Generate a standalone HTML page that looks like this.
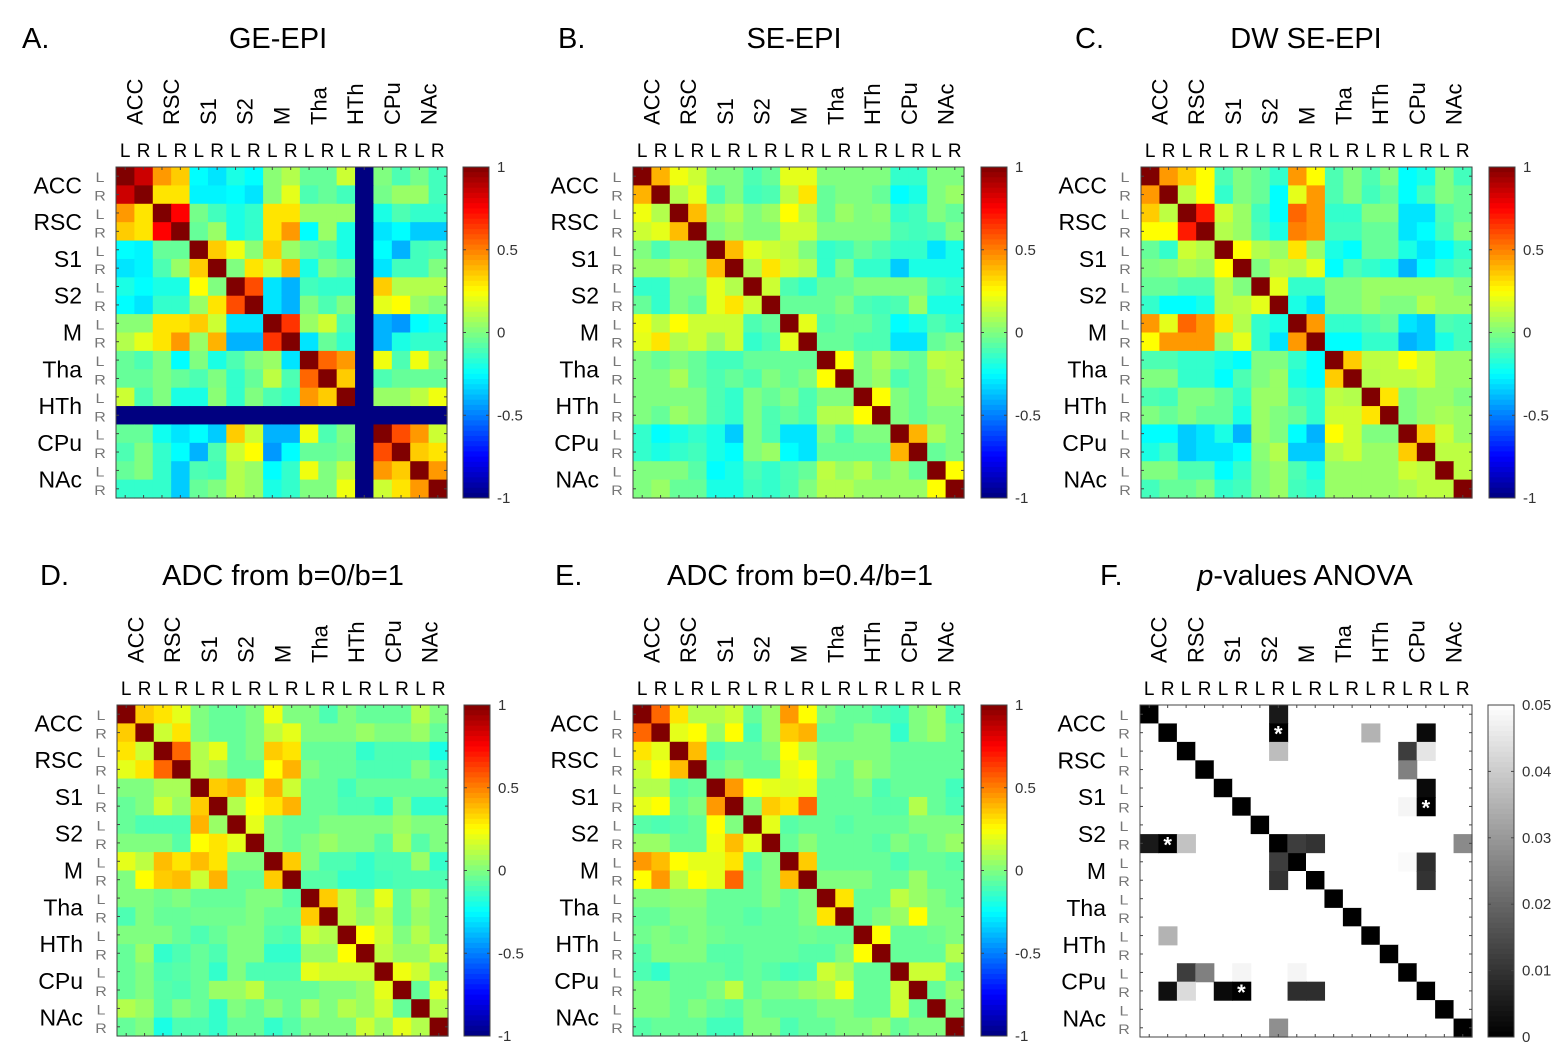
<!DOCTYPE html>
<html><head><meta charset="utf-8"><style>
html,body{margin:0;padding:0;background:#fff;}
svg{display:block;font-family:"Liberation Sans",sans-serif;}
</style></head><body>
<svg id="fig" width="1566" height="1062" viewBox="0 0 1566 1062" xmlns="http://www.w3.org/2000/svg"></svg>
<script>
const regions = ["ACC","RSC","S1","S2","M","Tha","HTh","CPu","NAc"];
const sides = ["L","R"];
const jetTicks = ["1","0.5","0","-0.5","-1"];
const pTicks = ["0.05","0.04","0.03","0.02","0.01","0"];
const matA = [
[1,.85,.45,.35,-.25,-.3,-.2,-.25,.02,.1,-.05,-.05,.15,-1,0,-.1,-.02,-.12],
[.85,1,.3,.3,-.27,-.27,-.25,-.3,.02,.2,-.1,-.05,-.12,-1,-.02,.05,.05,-.12],
[.45,.3,1,.75,-.02,-.12,-.2,-.15,.3,.3,.05,.05,.05,-1,-.2,-.1,-.15,-.15],
[.35,.3,.75,1,-.05,.05,-.2,-.15,.3,.45,-.25,.05,-.2,-1,-.3,-.25,-.35,-.35],
[-.25,-.27,-.05,-.05,1,.35,.22,.02,.35,.05,-.05,-.1,-.2,-1,-.25,-.4,-.12,-.1],
[-.3,-.27,-.1,.05,.35,1,0,.3,.15,.4,-.2,0,-.05,-1,-.3,-.12,-.12,0],
[-.2,-.25,-.2,-.2,.25,0,1,.6,-.3,-.4,-.12,-.15,-.15,-1,.35,.1,.1,.1],
[-.25,-.3,-.15,-.15,.05,.3,.6,1,-.3,-.4,0,-.1,0,-1,.2,.25,.05,0],
[.02,.02,.3,.3,.35,.15,-.3,-.3,1,.65,.05,.15,-.1,-1,-.4,-.45,-.25,-.2],
[.1,.2,.3,.45,.05,.4,-.4,-.4,.65,1,-.3,-.05,-.15,-1,-.4,-.2,-.15,-.15],
[-.05,-.1,0,-.25,0,-.2,-.1,0,.05,-.3,1,.55,.45,-1,.22,-.1,.22,0],
[-.05,-.05,0,-.05,-.1,0,-.15,-.05,.12,-.1,.55,1,.35,-1,-.1,-.05,-.05,-.05],
[.15,-.1,0,-.2,-.2,.02,-.15,0,-.1,-.15,.45,.35,1,-1,.05,.05,.12,.22],
[-1,-1,-1,-1,-1,-1,-1,-1,-1,-1,-1,-1,-1,-1,-1,-1,-1,-1],
[-.05,-.05,-.22,-.3,-.25,-.35,.35,.15,-.4,-.4,.22,-.1,0,-1,1,.6,.45,.15],
[-.1,0,-.15,-.25,-.4,-.1,.15,.25,-.45,-.25,-.05,-.05,-.02,-1,.6,1,.35,.3],
[-.05,0,-.15,-.35,-.1,-.12,.1,.05,-.25,-.15,.22,0,.12,-1,.45,.35,1,.45],
[-.15,-.15,-.15,-.35,-.05,0,.1,.05,-.2,-.15,0,0,.22,-1,.15,.3,.45,1]];
const matB = [
[1,.4,.22,.15,0,0,-.1,-.05,.2,.2,0,0,0,0,-.15,-.15,0,0],
[.4,1,.1,.2,-.1,0,-.12,-.1,.12,.3,-.05,0,0,-.05,-.25,-.2,0,.05],
[.22,.1,1,.38,.05,.1,0,.05,.25,.1,-.05,.05,0,.02,-.15,-.12,0,-.05],
[.15,.2,.38,1,0,.05,0,0,.15,.15,0,0,0,0,-.1,-.12,-.1,0],
[0,-.1,0,0,1,.38,.2,.15,.12,0,-.15,-.12,-.05,-.1,-.15,-.15,-.3,-.2],
[.05,.05,.1,.05,.38,1,.1,.3,.15,.1,-.15,0,-.15,-.15,-.35,-.2,-.2,-.2],
[-.15,-.15,0,0,.2,.1,1,.15,-.1,-.15,-.05,-.05,0,0,0,0,-.12,-.15],
[-.05,-.15,0,-.05,.2,.3,.15,1,-.05,-.05,-.05,0,-.1,-.12,-.1,.05,-.2,-.2],
[.22,.12,.25,.15,.15,.15,-.1,-.05,1,.2,-.08,-.05,-.05,-.1,-.25,-.2,-.1,-.15],
[.2,.3,.1,.15,.05,.15,-.15,-.1,.2,1,-.05,-.05,-.1,-.1,-.3,-.3,-.05,0],
[0,-.05,0,-.05,-.12,-.12,-.05,-.05,-.05,-.05,1,.25,0,.08,0,-.05,.12,.1],
[0,0,.08,-.05,-.1,-.05,-.1,0,-.05,0,.25,1,0,.05,-.1,-.05,.05,.1],
[0,0,0,0,-.1,-.15,0,-.05,0,-.1,0,0,1,.25,0,-.05,.05,.05],
[0,-.05,.05,0,-.1,-.15,0,-.1,-.05,-.1,.1,.1,.25,1,0,-.05,0,0],
[-.15,-.25,-.2,-.15,-.2,-.35,0,-.1,-.3,-.3,0,-.1,0,0,1,.4,.08,0],
[-.15,-.2,-.15,-.12,-.2,-.25,0,.05,-.25,-.3,-.05,-.05,-.05,-.05,.4,1,-.05,0],
[0,0,0,-.08,-.25,-.2,-.1,-.15,-.1,-.05,.12,.05,.1,0,.05,-.05,1,.25],
[0,.05,-.05,-.05,-.2,-.2,-.12,-.15,-.1,0,.1,.1,.05,.05,.05,.05,.25,1]];
const matC = [
[1,.45,.35,.25,-.1,0,-.05,-.15,.45,.25,-.1,0,-.1,0,-.25,-.2,0,-.12],
[.45,1,.12,.25,-.15,0,-.05,-.25,.2,.45,-.1,0,-.12,-.05,-.25,-.12,0,-.05],
[.35,.12,1,.7,.15,.05,-.12,-.25,.55,.45,-.15,-.15,0,0,-.3,-.3,-.1,-.05],
[.25,.25,.7,1,.1,.05,-.1,-.2,.5,.45,-.12,-.12,-.05,-.05,-.3,-.25,-.12,0],
[-.05,-.15,.15,.1,1,.25,.1,.05,.3,.05,-.2,-.25,-.05,-.05,-.2,-.3,-.25,-.15],
[0,.02,.08,.05,.25,1,0,.12,.1,.2,-.25,-.1,-.15,-.2,-.4,-.25,-.15,-.1],
[-.05,-.05,-.1,-.1,.1,0,1,.2,-.15,-.15,0,0,.05,.05,.05,.05,.05,0],
[-.15,-.25,-.25,-.2,.1,.12,.2,1,-.2,-.3,0,0,.05,0,0,.1,.05,.05],
[.45,.2,.55,.45,.3,.1,-.15,-.2,1,.45,-.15,-.15,-.1,-.05,-.3,-.35,-.1,-.12],
[.25,.45,.45,.45,.05,.2,-.15,-.3,.45,1,-.25,-.25,-.15,-.15,-.4,-.35,-.2,-.12],
[-.1,-.1,-.15,-.15,-.2,-.25,0,0,-.15,-.25,1,.35,.12,.12,.25,.15,.05,.05],
[0,0,-.15,-.15,-.25,-.1,0,.05,-.2,-.25,.35,1,.1,.12,.12,.15,.05,.05],
[-.1,-.12,0,0,-.05,-.15,.05,.05,-.12,-.15,.12,.1,1,.3,0,.05,.05,0],
[0,-.05,0,-.05,-.05,-.2,.05,0,-.05,-.15,.15,.15,.3,1,0,.05,.08,.05],
[-.25,-.25,-.35,-.3,-.2,-.4,.05,0,-.25,-.4,.25,.15,0,0,1,.35,.15,.05],
[-.2,-.12,-.35,-.3,-.3,-.25,.02,.1,-.35,-.35,.1,.15,.05,.05,.35,1,.12,.12],
[0,0,-.1,-.1,-.25,-.15,0,.05,-.1,-.2,.05,.05,.05,.05,.15,.12,1,.12],
[-.12,-.05,-.05,0,-.15,-.12,0,.05,-.12,-.15,.05,.05,.05,.05,.08,.12,.12,1]];
const matD = [
[1,.35,.3,.2,0,-.05,-.05,0,.22,0,0,-.1,0,-.05,-.05,-.05,.1,0],
[.35,1,.15,.3,0,-.05,-.05,0,.12,.2,0,0,0,.05,0,0,.05,-.05],
[.3,.15,1,.55,.1,.2,-.05,0,.35,.3,-.05,-.05,-.05,-.15,-.1,-.1,-.1,-.2],
[.2,.3,.55,1,.1,.05,-.05,-.05,.25,.4,0,-.05,-.05,-.1,-.1,-.1,0,-.1],
[0,0,.08,.08,1,.35,.4,.2,.4,.15,-.05,-.05,-.12,-.05,-.05,-.05,-.05,-.05],
[-.05,0,.15,.05,.35,1,.1,.25,.3,.4,-.05,-.05,-.1,-.1,-.15,0,-.15,-.15],
[-.05,-.1,-.1,-.1,.4,.05,1,.2,0,-.05,-.05,0,0,0,0,.05,0,0],
[0,0,0,-.08,.25,.3,.2,1,0,-.05,0,.05,0,0,-.08,.08,-.08,0],
[.2,.12,.38,.3,.38,.3,0,0,1,.35,0,-.1,-.1,-.15,-.1,-.1,.05,-.15],
[0,.25,.35,.38,.15,.4,-.05,-.05,.35,1,-.08,-.08,-.15,-.15,-.12,-.1,-.1,-.1],
[0,0,-.03,0,-.05,-.05,-.05,0,0,-.08,1,.35,.12,0,.2,-.05,.08,0],
[-.1,0,-.05,-.05,-.03,-.03,-.03,0,-.05,-.05,.35,1,.12,.05,.12,-.05,.05,0],
[0,0,0,-.05,-.1,-.05,0,0,-.08,-.1,.15,.1,1,.25,.15,0,.1,0],
[-.05,.05,-.15,-.1,-.05,-.1,0,0,-.15,-.15,.05,.05,.25,1,.12,.05,.05,.15],
[-.05,0,-.1,-.08,-.05,-.15,0,-.1,-.1,-.1,.2,.15,.15,.15,1,.22,.15,0],
[-.05,0,-.08,-.1,-.05,.05,.05,.12,-.05,-.05,-.05,0,0,.05,.2,1,-.05,.2],
[.1,.05,-.08,0,-.05,-.15,0,-.05,.02,-.05,.08,0,.1,.05,.15,-.05,1,.1],
[-.05,0,-.2,-.1,-.1,-.15,-.05,-.05,-.15,-.08,0,0,0,.15,.05,.2,.1,1]];
const matE = [
[1,.55,.3,.1,.1,.15,-.05,.05,.45,.25,0,-.05,-.05,-.1,-.12,0,.05,-.1],
[.55,1,.2,.25,.05,.25,-.1,.05,.35,.4,-.05,-.05,0,0,-.15,0,.05,-.05],
[.3,.2,1,.38,-.1,-.05,-.05,0,.25,.1,0,0,0,0,-.05,-.05,-.05,-.05],
[.15,.25,.38,1,-.05,0,-.05,-.05,.2,.25,0,-.05,.05,0,-.05,-.05,-.05,-.05],
[.1,.1,-.08,-.05,1,.45,.25,.2,.18,.2,-.05,-.05,0,-.1,-.05,-.05,-.05,-.12],
[.2,.25,-.05,0,.45,1,0,.35,.3,.55,-.05,-.05,-.05,-.08,-.08,.1,-.05,-.1],
[-.08,-.1,-.08,-.05,.25,0,1,.2,-.08,-.05,-.05,-.08,-.05,-.05,-.05,0,0,0],
[.05,.05,-.05,-.05,.22,.38,.2,1,-.05,.02,-.05,-.05,-.05,-.08,0,-.05,0,.05],
[.45,.38,.25,.2,.2,.3,-.08,0,1,.35,-.05,-.05,-.05,-.05,-.1,-.05,-.05,-.08],
[.25,.45,.12,.25,.2,.55,-.05,0,.38,1,0,0,0,-.05,-.05,.05,-.05,-.05],
[0,0,.02,.02,-.05,-.05,-.05,0,-.05,0,1,.3,-.05,-.05,.12,.05,0,-.05],
[-.05,-.05,0,0,-.05,-.05,-.08,-.05,-.05,0,.3,1,-.05,0,.05,.25,0,0],
[-.03,0,-.03,0,-.03,-.05,-.05,-.05,-.05,-.03,-.05,-.05,1,.25,-.05,-.05,-.03,0],
[-.08,0,0,0,-.08,-.08,-.05,-.05,-.05,-.08,-.08,0,.25,1,-.05,-.05,-.05,.1],
[-.1,-.15,-.05,-.05,-.05,-.08,-.05,-.08,-.12,-.1,.15,.08,-.05,-.05,1,.15,.15,-.05],
[0,0,-.05,-.05,0,.12,-.05,0,0,.05,.08,.22,-.05,-.05,.15,1,-.05,.05],
[0,0,-.05,0,-.05,-.08,0,-.05,-.05,-.05,0,0,-.05,-.05,.15,-.05,1,0],
[-.08,-.05,-.05,-.05,-.12,-.12,0,0,-.1,-.05,-.05,0,0,.05,-.05,0,0,1]];
// significant p-values [row, col, p]; all other off-diagonal cells are >= 0.05, diagonal = 0
const pCells = [
[0,7,.005],[1,7,0],[2,7,.037],[1,12,.035],[1,15,.002],[2,14,.012],[2,15,.045],[3,14,.025],
[4,15,.002],[5,14,.048],[5,15,0],
[7,0,.005],[7,1,0],[7,2,.038],[7,8,.012],[7,9,.01],[7,17,.027],
[8,7,.012],[8,14,.049],[8,15,.009],[9,7,.01],[9,15,.01],[12,1,.035],
[14,2,.012],[14,3,.025],[14,5,.048],[14,8,.048],
[15,1,.003],[15,2,.043],[15,4,.002],[15,5,0],[15,8,.009],[15,9,.009],[17,7,.028]];
const pStars = [[1,7],[5,15],[7,1],[15,5]];

const NS = "http://www.w3.org/2000/svg";
const svg = document.getElementById("fig");
function el(tag, attrs, parent, txt){
  const e = document.createElementNS(NS, tag);
  for (const k in attrs) e.setAttribute(k, attrs[k]);
  if (txt !== undefined) e.textContent = txt;
  (parent||svg).appendChild(e);
  return e;
}
function cl(x){return Math.max(0,Math.min(1,x));}
function jet(v){
  const t = cl((v+1)/2);
  const r = cl(1.5-Math.abs(4*t-3)), g = cl(1.5-Math.abs(4*t-2)), b = cl(1.5-Math.abs(4*t-1));
  return `rgb(${Math.round(r*255)},${Math.round(g*255)},${Math.round(b*255)})`;
}
function gray(p){ const g = Math.round(cl(p/0.05)*255); return `rgb(${g},${g},${g})`; }

function panel(key, letter, title, italicP, lx, tx, ty, x0, y0, size, cbx, mat, isP){
  const g = el("g", {}, svg);
  
  
  const n = 18, cs = size/n;
  const lt = el("text", {x:lx, y:ty, "font-size":29}, g, letter);
  
  
  const tt = el("text", {x:tx, y:ty, "font-size":29, "text-anchor":"middle"}, g);
  
  
  if (italicP){ el("tspan", {"font-style":"italic"}, tt, "p"); el("tspan", {}, tt, "-values ANOVA"); }
  else tt.textContent = title;
  const hm = el("g", {}, g);
  
  
  for (let i=0;i<n;i++) for (let j=0;j<n;j++){
    let fill;
    if (isP){ fill = (i===j) ? gray(0) : "#fff"; }
    else fill = jet(mat[i][j]);
    const r = el("rect", {x:(x0+j*cs).toFixed(2), y:(y0+i*cs).toFixed(2), width:(cs+0.6).toFixed(2), height:(cs+0.6).toFixed(2), fill}, hm);
    
    
  }
  if (isP){
    pCells.forEach(([i,j,p])=>{
      const r = el("rect", {x:(x0+j*cs).toFixed(2), y:(y0+i*cs).toFixed(2), width:(cs+0.6).toFixed(2), height:(cs+0.6).toFixed(2), fill:gray(p)}, hm);
      
      
    });
    pStars.forEach(([i,j])=>{
      const s = el("text", {x:(x0+(j+0.5)*cs).toFixed(2), y:(y0+(i+0.5)*cs+9).toFixed(2), "font-size":22, "font-weight":"bold", fill:"#fff", "text-anchor":"middle"}, hm, "*");
      
      
    });
  }
  const fr = el("rect", {x:x0, y:y0, width:size, height:size, fill:"none", stroke:"#444", "stroke-width":1}, g);
  
  
  for (let k=0;k<n;k++){
    const c = x0+(k+0.5)*cs, cy = y0+(k+0.5)*cs;
    el("line", {x1:c, x2:c, y1:y0+size, y2:y0+size-3, stroke:"#444"}, g);
    el("line", {x1:c, x2:c, y1:y0, y2:y0+3, stroke:"#444"}, g);
    el("line", {x1:x0+size, x2:x0+size-3, y1:cy, y2:cy, stroke:"#444"}, g);
    el("line", {x1:x0, x2:x0+3, y1:cy, y2:cy, stroke:"#444"}, g);
  }
  regions.forEach((r,k)=>{
    const cx = x0+(2*k+1)*cs, cy = y0+(2*k+1)*cs;
    const t = el("text", {x:0, y:0, "font-size":22, transform:`translate(${(cx+8).toFixed(1)},${y0-42}) rotate(-90)`}, g, r);
    
    
    const t2 = el("text", {x:x0-34, y:(cy+8).toFixed(1), "font-size":23, "text-anchor":"end"}, g, r);
    
    
  });
  for (let k=0;k<n;k++){
    const s = sides[k%2];
    const t = el("text", {x:(x0+(k+0.5)*cs).toFixed(1), y:y0-10, "font-size":19, "text-anchor":"middle"}, g, s);
    
    
    const cy = y0+(k+0.5)*cs;
    const t2 = el("text", {x:0, y:0, "font-size":16, fill:"#777", "text-anchor":"middle", transform:`translate(${x0-16},${(cy+6).toFixed(1)}) scale(1,0.85)`}, g, s);
    
    
  }
  const cb = el("g", {}, g);
  
  
  const cw = 26, steps = 64, sh = size/steps;
  for (let s=0;s<steps;s++){
    const f = (s+0.5)/steps;
    const fill = isP ? gray(0.05*(1-f)) : jet(1-2*f);
    el("rect", {x:cbx, y:(y0+s*sh).toFixed(2), width:cw, height:(sh+0.5).toFixed(2), fill}, cb);
  }
  el("rect", {x:cbx, y:y0, width:cw, height:size, fill:"none", stroke:"#444"}, cb);
  const ticks = isP ? pTicks : jetTicks;
  ticks.forEach((lab,k)=>{
    const yy = y0 + size*k/(ticks.length-1);
    el("line", {x1:cbx+cw, x2:cbx+cw-3, y1:yy, y2:yy, stroke:"#444"}, cb);
    el("line", {x1:cbx, x2:cbx+3, y1:yy, y2:yy, stroke:"#444"}, cb);
    const t = el("text", {x:cbx+cw+8, y:(yy+5).toFixed(1), "font-size":15, fill:"#333"}, cb, lab);
    
    
  });
}
panel("a","A.","GE-EPI",false,22,278,48,116,167,331,463,matA,false);
panel("b","B.","SE-EPI",false,558,794,48,633,167,331,981,matB,false);
panel("c","C.","DW SE-EPI",false,1075,1306,48,1141,167,331,1489,matC,false);
panel("d","D.","ADC from b=0/b=1",false,40,283,585,117,705,331,464,matD,false);
panel("e","E.","ADC from b=0.4/b=1",false,555,800,585,633,705,331,981,matE,false);
panel("f","F.","",true,1100,1305,585,1140,705,332,1488,null,true);
</script>
</body></html>
